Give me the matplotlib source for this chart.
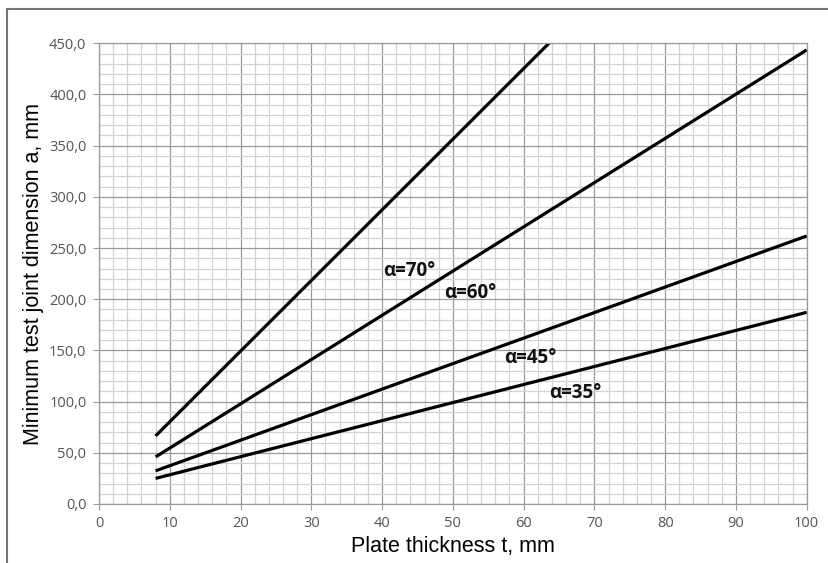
import matplotlib.pyplot as plt
from matplotlib.ticker import MultipleLocator, FuncFormatter
from matplotlib.lines import Line2D

# plate thickness t, mm
t = [8, 20, 40, 60, 80, 100]

# minimum test joint dimension a, mm, per bevel angle
a70 = [66.5, 149.3, 287.3, 425.3, 563.3, 701.3]
a60 = [46.0, 97.8, 184.3, 270.7, 357.1, 443.5]
a45 = [32.4, 62.3, 112.2, 162.0, 211.9, 261.8]
a35 = [25.0, 46.2, 81.4, 116.7, 151.9, 187.2]

labels = ['α=70°', 'α=60°', 'α=45°', 'α=35°']
label_pos = [(43.9, 228), (52.4, 206), (60.9, 143), (67.3, 108)]

fig = plt.figure(figsize=(8.29, 5.63), dpi=100)
ax = fig.add_axes([0.1194, 0.1048, 0.8537, 0.8183])

for a in (a70, a60, a45, a35):
    ax.plot(t, a, color='black', lw=2.3, solid_capstyle='butt')

for txt, (x, y) in zip(labels, label_pos):
    ax.text(x, y, txt, ha='center', va='center', fontsize=13.5,
            fontweight='bold', family='Open Sans', color='#111111')

ax.set_xlim(0, 100)
ax.set_ylim(0, 450)
ax.xaxis.set_major_locator(MultipleLocator(10))
ax.xaxis.set_minor_locator(MultipleLocator(2))
ax.yaxis.set_major_locator(MultipleLocator(50))
ax.yaxis.set_minor_locator(MultipleLocator(10))
ax.yaxis.set_major_formatter(FuncFormatter(lambda v, p: f'{v:.1f}'.replace('.', ',')))

ax.grid(which='minor', color='#d2d2d2', lw=0.9)
ax.grid(which='major', color='#9a9a9a', lw=0.9)
ax.set_axisbelow(True)

for s in ax.spines.values():
    s.set_color('#9a9a9a')
    s.set_linewidth(0.9)

ax.tick_params(which='major', length=4, color='#9a9a9a', labelsize=10.5,
               labelcolor='#555555', pad=5)
ax.tick_params(which='minor', length=0)
for lab in ax.get_xticklabels() + ax.get_yticklabels():
    lab.set_family('Open Sans')

ax.set_xlabel('Plate thickness t, mm', fontsize=15.5, family='Liberation Sans', labelpad=3)
ax.set_ylabel('Minimum test joint dimension a, mm', fontsize=15.5,
              family='Liberation Sans', labelpad=4)

# outer border (top and left visible)
fig.add_artist(Line2D([7 / 829, 7 / 829], [1 - 9 / 563, 0], color='#777777', lw=1.5))
fig.add_artist(Line2D([7 / 829, 1], [1 - 9 / 563, 1 - 9 / 563], color='#777777', lw=1.5))

fig.savefig('out.png', dpi=100)
